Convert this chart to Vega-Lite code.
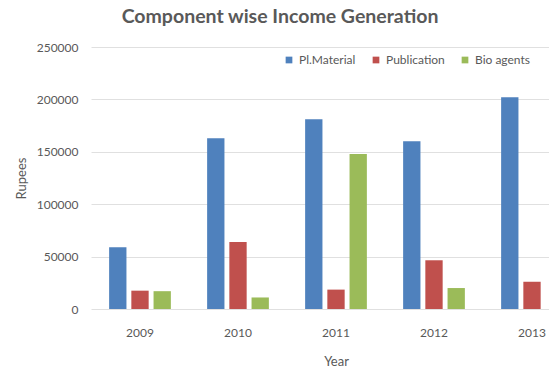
{
  "$schema": "https://vega.github.io/schema/vega-lite/v6.json",
  "autosize": "none",
  "width": 458,
  "height": 262,
  "padding": {"left": 91, "top": 47, "right": 0, "bottom": 63},
  "background": "white",
  "title": {
    "text": "Component wise Income Generation",
    "font": "Lato",
    "fontSize": 19.5,
    "fontWeight": "bold",
    "color": "#595959",
    "dx": -40,
    "offset": 14
  },
  "config": {
    "view": {"stroke": null},
    "font": "Lato"
  },
  "data": {
    "values": [
      {"Year": "2009", "Component": "Pl.Material", "Rupees": 59000},
      {"Year": "2009", "Component": "Publication", "Rupees": 17500},
      {"Year": "2009", "Component": "Bio agents", "Rupees": 17000},
      {"Year": "2010", "Component": "Pl.Material", "Rupees": 163000},
      {"Year": "2010", "Component": "Publication", "Rupees": 64000},
      {"Year": "2010", "Component": "Bio agents", "Rupees": 11000},
      {"Year": "2011", "Component": "Pl.Material", "Rupees": 181000},
      {"Year": "2011", "Component": "Publication", "Rupees": 18500},
      {"Year": "2011", "Component": "Bio agents", "Rupees": 148000},
      {"Year": "2012", "Component": "Pl.Material", "Rupees": 160000},
      {"Year": "2012", "Component": "Publication", "Rupees": 46500},
      {"Year": "2012", "Component": "Bio agents", "Rupees": 20000},
      {"Year": "2013", "Component": "Pl.Material", "Rupees": 202000},
      {"Year": "2013", "Component": "Publication", "Rupees": 26000}
    ]
  },
  "mark": {"type": "bar", "clip": true},
  "encoding": {
    "x": {
      "field": "Year",
      "type": "nominal",
      "scale": {"range": [0, 490], "paddingInner": 0.37, "paddingOuter": 0.185},
      "axis": {
        "labelAngle": 0,
        "domain": false,
        "ticks": false,
        "labelPadding": 18,
        "labelFontSize": 12,
        "labelColor": "#595959",
        "title": "Year",
        "titleFontSize": 13,
        "titleFontWeight": "normal",
        "titleColor": "#595959",
        "titlePadding": 17
      }
    },
    "xOffset": {
      "field": "Component",
      "type": "nominal",
      "sort": ["Pl.Material", "Publication", "Bio agents"],
      "scale": {"paddingInner": 0.22}
    },
    "y": {
      "field": "Rupees",
      "type": "quantitative",
      "scale": {"domain": [0, 250000]},
      "axis": {
        "values": [0, 50000, 100000, 150000, 200000, 250000],
        "format": "d",
        "domain": false,
        "ticks": false,
        "labelPadding": 13,
        "labelFontSize": 12,
        "labelColor": "#595959",
        "gridColor": "#e0e0e0",
        "title": "Rupees",
        "titleFontSize": 13,
        "titleFontWeight": "normal",
        "titleColor": "#595959",
        "titlePadding": 8
      }
    },
    "color": {
      "field": "Component",
      "type": "nominal",
      "sort": ["Pl.Material", "Publication", "Bio agents"],
      "scale": {
        "domain": ["Pl.Material", "Publication", "Bio agents"],
        "range": ["#4F81BD", "#C0504D", "#9BBB59"]
      },
      "legend": {
        "title": null,
        "orient": "none",
        "direction": "horizontal",
        "legendX": 192,
        "legendY": 7,
        "symbolType": "square",
        "symbolSize": 45,
        "symbolStrokeWidth": 0,
        "labelFontSize": 12,
        "labelColor": "#595959",
        "labelOffset": 4,
        "columnPadding": 14
      }
    }
  }
}
